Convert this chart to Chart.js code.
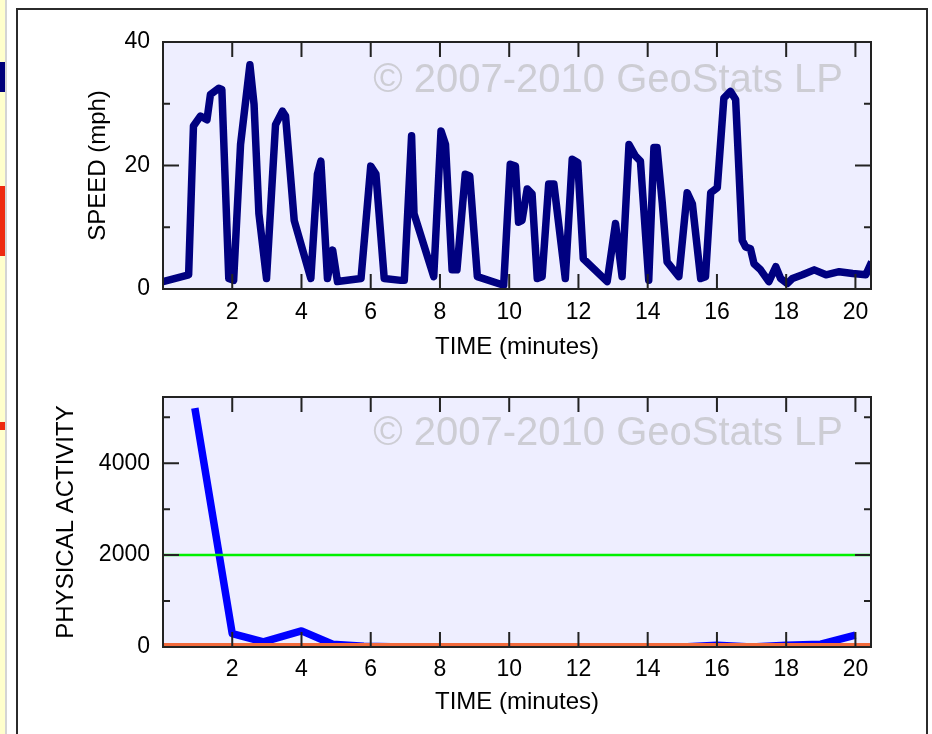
<!DOCTYPE html>
<html>
<head>
<meta charset="utf-8">
<script src="https://cdn.jsdelivr.net/npm/chart.js@4.4.1/dist/chart.umd.min.js"></script>
<style>
  body { margin: 0; background: #fff; width: 932px; height: 734px; overflow: hidden; position: relative; }
  #strip { position: absolute; left: 0; top: 0; width: 5px; height: 734px; background: #ffffcc; border-right: 2px solid #d4d4d4; }
  .mark { position: absolute; left: 0; width: 5px; }
  #frame { position: absolute; left: 16px; top: 8px; width: 908px; height: 740px; border: 2px solid #2b2b2b; border-bottom: none; }
  .box { position: absolute; left: 0; width: 932px; }
</style>
</head>
<body>
<div id="strip"></div>
<div class="mark" style="top:62px;height:30px;background:#00007a"></div>
<div class="mark" style="top:186px;height:70px;background:#ee2a10"></div>
<div class="mark" style="top:422px;height:8px;background:#ee2a10"></div>
<div id="frame"></div>
<div class="box" style="top:0;height:370px"><canvas id="speedChart" width="932" height="370"></canvas></div>
<div class="box" style="top:360px;height:374px"><canvas id="activityChart" width="932" height="374"></canvas></div>
<script>
// speed trace (minutes, mph)
const speedMinutes = [0.0, 0.74, 0.88, 1.08, 1.27, 1.37, 1.61, 1.70, 1.90, 2.04,
  2.24, 2.51, 2.63, 2.77, 2.99, 3.25, 3.45, 3.54, 3.79, 4.27,
  4.46, 4.56, 4.75, 4.90, 5.04, 5.72, 6.00, 6.15, 6.39, 6.87,
  6.97, 7.18, 7.25, 7.82, 8.03, 8.16, 8.35, 8.49, 8.73, 8.86,
  9.08, 9.84, 10.03, 10.18, 10.27, 10.37, 10.52, 10.66, 10.81, 10.95,
  11.14, 11.29, 11.62, 11.82, 11.98, 12.14, 12.83, 13.07, 13.26, 13.46,
  13.65, 13.79, 14.03, 14.18, 14.27, 14.42, 14.56, 14.90, 15.14, 15.29,
  15.53, 15.67, 15.82, 16.01, 16.20, 16.39, 16.54, 16.73, 16.83, 16.97,
  17.07, 17.26, 17.50, 17.70, 17.84, 18.03, 18.18, 18.47, 18.81, 19.15,
  19.53, 19.92, 20.30, 20.47];
const speedMph = [1.2, 2.3, 26.4, 28.0, 27.4, 31.5, 32.5, 32.3, 1.7, 1.4,
  23.4, 36.3, 29.9, 12.2, 1.7, 26.6, 28.8, 28.0, 11.1, 1.7,
  18.6, 20.7, 1.7, 6.3, 1.2, 1.7, 19.9, 18.6, 1.7, 1.4,
  1.4, 24.8, 12.2, 2.0, 25.6, 23.4, 3.1, 3.1, 18.6, 18.3,
  2.0, 0.6, 20.2, 19.9, 10.8, 11.1, 16.2, 15.4, 1.7, 2.0,
  17.0, 17.0, 1.7, 21.0, 20.5, 4.9, 1.2, 10.6, 2.0, 23.4,
  21.5, 20.7, 1.4, 22.9, 22.9, 14.0, 4.4, 2.0, 15.6, 13.8,
  1.7, 2.0, 15.6, 16.4, 30.9, 32.0, 30.7, 7.9, 6.8, 6.5,
  4.1, 3.1, 1.2, 3.6, 1.7, 0.9, 1.7, 2.3, 3.1, 2.3,
  2.8, 2.5, 2.3, 4.4];

// physical activity per minute
const activityMinutes = [0.92, 2.0, 2.9, 4.0, 4.9, 5.8, 7, 8, 9, 10, 11, 12, 13, 14, 15, 16, 17, 18, 19, 20];
const activityValues = [5200, 290, 110, 350, 60, 15, 0, 0, 0, 0, 0, 0, 0, 0, 0, 40, 0, 40, 60, 260];
const activityThreshold = 2000;

const timeMin = 0;
const timeMax = 20.45;
const timeTicks = [2, 4, 6, 8, 10, 12, 14, 16, 18, 20];
const speedTicks = [0, 20, 40];
const speedMinorTicks = [10, 30];
const activityTicks = [0, 2000, 4000];
const activityMinorTicks = [1000, 3000, 5000];
const watermark = '\u00a9 2007-2010 GeoStats LP';

Chart.defaults.font.family = '"Liberation Sans", Arial, sans-serif';
Chart.defaults.color = '#000';

function points(xs, ys) {
  return xs.map((x, i) => ({ x: x, y: ys[i] }));
}

// plot background, watermark, inward ticks and frame
const plotDecor = {
  id: 'plotDecor',
  beforeDraw(chart) {
    const { ctx, chartArea: a } = chart;
    ctx.save();
    ctx.fillStyle = '#eeeeff';
    ctx.fillRect(a.left, a.top, a.width, a.height);
    ctx.restore();
  },
  beforeDatasetsDraw(chart, args, opts) {
    const { ctx, chartArea: a } = chart;
    ctx.save();
    ctx.font = '40px "Liberation Sans", Arial, sans-serif';
    ctx.fillStyle = '#cdcdd4';
    ctx.textAlign = 'right';
    ctx.textBaseline = 'alphabetic';
    ctx.fillText(watermark, a.right - 28, a.top + opts.markY);
    ctx.restore();
  },
  afterDatasetsDraw(chart, args, opts) {
    const { ctx, chartArea: a, scales } = chart;
    ctx.save();
    ctx.strokeStyle = '#222';
    ctx.lineWidth = 2;
    ctx.beginPath();
    opts.xTicks.forEach(v => {
      const px = scales.x.getPixelForValue(v);
      ctx.moveTo(px, a.top); ctx.lineTo(px, a.top + 15);
      ctx.moveTo(px, a.bottom); ctx.lineTo(px, a.bottom - 15);
    });
    opts.yMajor.forEach(v => {
      const py = scales.y.getPixelForValue(v);
      ctx.moveTo(a.left, py); ctx.lineTo(a.left + 16, py);
      ctx.moveTo(a.right, py); ctx.lineTo(a.right - 16, py);
    });
    opts.yMinor.forEach(v => {
      const py = scales.y.getPixelForValue(v);
      ctx.moveTo(a.left, py); ctx.lineTo(a.left + 7, py);
      ctx.moveTo(a.right, py); ctx.lineTo(a.right - 7, py);
    });
    ctx.stroke();
    ctx.strokeRect(a.left, a.top, a.width, a.height);
    ctx.restore();
  }
};

function makeOptions(cfg) {
  return {
    responsive: false,
    animation: false,
    devicePixelRatio: 1,
    events: [],
    layout: { padding: { left: 0, right: 61, top: cfg.top, bottom: 0 } },
    plugins: {
      legend: { display: false },
      tooltip: { enabled: false },
      plotDecor: { markY: cfg.markY, xTicks: timeTicks, yMajor: cfg.yMajor, yMinor: cfg.yMinor }
    },
    scales: {
      x: {
        type: 'linear',
        min: timeMin,
        max: timeMax,
        afterBuildTicks: s => { s.ticks = timeTicks.map(v => ({ value: v })); },
        afterFit: s => { s.height = cfg.xHeight; },
        grid: { display: false, drawTicks: false },
        border: { display: false },
        ticks: { autoSkip: false, maxRotation: 0, padding: cfg.xPad, font: { size: 23 }, callback: v => String(v) },
        title: { display: true, text: 'TIME (minutes)', font: { size: 24 }, padding: { top: 0, bottom: cfg.xTitlePad } }
      },
      y: {
        type: 'linear',
        min: cfg.yMin,
        max: cfg.yMax,
        afterBuildTicks: s => { s.ticks = cfg.yLabels.map(v => ({ value: v })); },
        afterFit: s => { s.width = 163; },
        grid: { display: false, drawTicks: false },
        border: { display: false },
        ticks: { padding: 13, font: { size: 23 }, callback: v => String(v) },
        title: { display: true, text: cfg.yTitle, font: { size: 24 }, padding: { top: cfg.yTitlePad, bottom: 0 } }
      }
    }
  };
}

new Chart(document.getElementById('speedChart'), {
  type: 'line',
  data: {
    datasets: [{
      label: 'SPEED',
      data: points(speedMinutes, speedMph),
      borderColor: '#000080',
      borderWidth: 7.5,
      borderJoinStyle: 'round',
      pointRadius: 0,
      tension: 0,
      fill: false
    }]
  },
  options: makeOptions({
    top: 42, xHeight: 81, xPad: 10, xTitlePad: 8, yTitlePad: 84, markY: 50,
    yMin: 0, yMax: 40, yLabels: speedTicks, yMajor: [20], yMinor: speedMinorTicks,
    yTitle: 'SPEED (mph)'
  }),
  plugins: [plotDecor]
});

new Chart(document.getElementById('activityChart'), {
  type: 'line',
  data: {
    datasets: [{
      label: 'zero',
      data: [{ x: timeMin, y: 0 }, { x: timeMax, y: 0 }],
      borderColor: '#f26a3c',
      borderWidth: 8,
      pointRadius: 0,
      clip: 0
    }, {
      label: 'threshold',
      data: [{ x: timeMin, y: activityThreshold }, { x: timeMax, y: activityThreshold }],
      borderColor: '#00f000',
      borderWidth: 2.5,
      pointRadius: 0
    }, {
      label: 'PHYSICAL ACTIVITY',
      data: points(activityMinutes, activityValues),
      borderColor: '#0000ff',
      borderWidth: 7.5,
      borderJoinStyle: 'round',
      pointRadius: 0,
      tension: 0,
      clip: 0
    }]
  },
  options: makeOptions({
    top: 37, xHeight: 87, xPad: 9, xTitlePad: 17, yTitlePad: 52, markY: 48,
    yMin: 0, yMax: 5440, yLabels: activityTicks, yMajor: [2000, 4000], yMinor: activityMinorTicks,
    yTitle: 'PHYSICAL ACTIVITY'
  }),
  plugins: [plotDecor]
});
</script>
</body>
</html>
